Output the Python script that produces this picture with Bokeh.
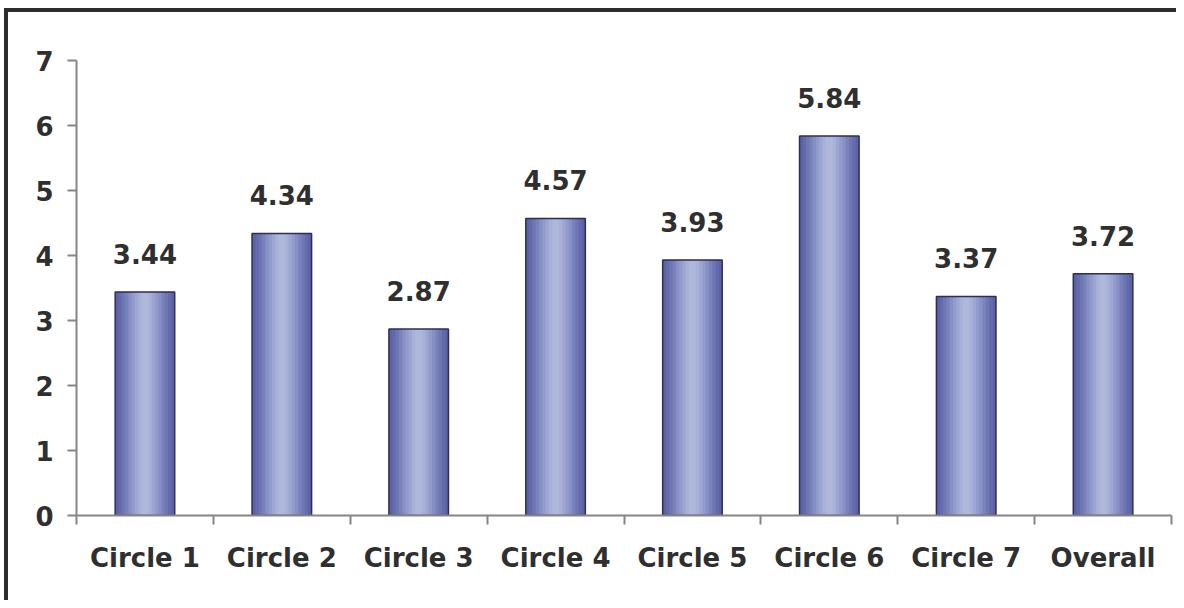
from bokeh.plotting import figure
from bokeh.models import FixedTicker, ColumnDataSource, Range1d
from bokeh.core.properties import value
from bokeh.embed import file_html
from bokeh.resources import INLINE

categories = ["Circle 1", "Circle 2", "Circle 3", "Circle 4", "Circle 5", "Circle 6", "Circle 7", "Overall"]
values = [3.44, 4.34, 2.87, 4.57, 3.93, 5.84, 3.37, 3.72]
y_ticks = [0, 1, 2, 3, 4, 5, 6, 7]

xs = [i + 0.5 for i in range(len(categories))]
labels = ["%.2f" % v for v in values]
src = ColumnDataSource(dict(x=xs, top=values, label=labels))

FONT = "DejaVu Sans"
TXT = "#2f2f2f"
AX = "#858585"

p = figure(width=1172, height=592, output_backend="svg", toolbar_location=None,
           x_range=Range1d(0, len(categories)), y_range=Range1d(0, 7),
           min_border_left=68, min_border_top=48, min_border_right=9, min_border_bottom=89)
p.styles = {"border-top": "4px solid #2d2d2d", "border-left": "4px solid #2d2d2d",
            "margin-top": "8px", "margin-left": "4px"}
p.outline_line_color = None
p.xgrid.visible = False
p.ygrid.visible = False
p.background_fill_color = "white"
p.border_fill_color = "white"

# gradient bars: concentric layers
bar_w = 0.435
layer_colors = ["#5c63a4", "#646bac", "#6e76b4", "#7a82bc", "#8690c4", "#929bcb", "#9ea7d2", "#a8b1d7", "#afb8db"]
n = len(layer_colors)
for k, c in enumerate(layer_colors):
    w = bar_w * (1 - k / n)
    p.vbar(x="x", top="top", bottom=0, width=w, source=src, fill_color=c, line_color=None)
p.vbar(x="x", top="top", bottom=0, width=bar_w, source=src, fill_color=None,
       line_color="#2b2e58", line_width=1.5)

p.text(x="x", y="top", text="label", source=src, y_offset=-38,
       text_align="center", text_baseline="alphabetic",
       text_font=value(FONT), text_font_style="bold", text_font_size="26px", text_color=TXT)

# x axis: labels at centres, ticks at category boundaries
xa = p.xaxis[0]
xa.ticker = FixedTicker(ticks=xs, minor_ticks=list(range(len(categories) + 1)))
xa.major_label_overrides = {x: c for x, c in zip(xs, categories)}
xa.major_tick_out = 0
xa.major_tick_in = 0
xa.minor_tick_out = 9
xa.minor_tick_in = 0
xa.minor_tick_line_color = AX
xa.minor_tick_line_width = 2
xa.axis_line_color = AX
xa.axis_line_width = 2
xa.major_label_standoff = 18
xa.major_label_text_font = FONT
xa.major_label_text_font_style = "bold"
xa.major_label_text_font_size = "26px"
xa.major_label_text_color = TXT

ya = p.yaxis[0]
ya.ticker = FixedTicker(ticks=y_ticks)
ya.minor_tick_line_color = None
ya.major_tick_out = 9
ya.major_tick_in = 0
ya.major_tick_line_color = AX
ya.major_tick_line_width = 2
ya.axis_line_color = AX
ya.axis_line_width = 2
ya.major_label_standoff = 14
ya.major_label_text_font = FONT
ya.major_label_text_font_style = "bold"
ya.major_label_text_font_size = "26px"
ya.major_label_text_color = TXT

open("out.html", "w").write(file_html(p, INLINE))
